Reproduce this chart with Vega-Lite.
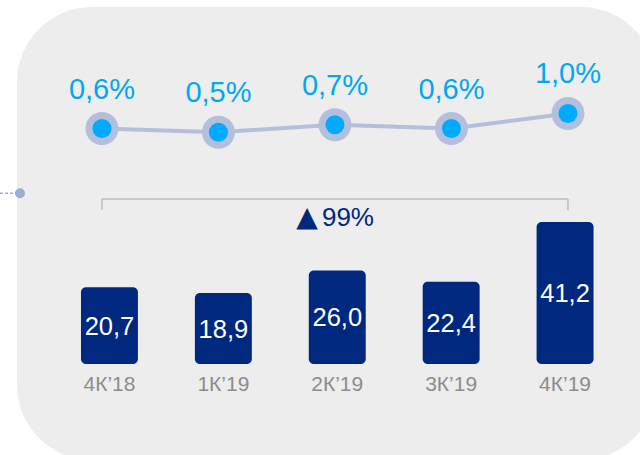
{
  "$schema": "https://vega.github.io/schema/vega-lite/v6.json",
  "width": 639,
  "height": 453,
  "autosize": {"type": "none"},
  "padding": {"left": 17, "top": 7, "right": -16, "bottom": -5},
  "background": "#ffffff",
  "config": {
    "view": {"fill": "#ededed", "stroke": null, "cornerRadius": 75},
    "font": "Liberation Sans",
    "locale": {"number": {"decimal": ",", "thousands": " ", "grouping": [3], "currency": ["", ""]}}
  },
  "data": {
    "values": [
      {"quarter": "4К’18", "value": 20.7, "share": 0.006},
      {"quarter": "1К’19", "value": 18.9, "share": 0.005},
      {"quarter": "2К’19", "value": 26.0, "share": 0.007},
      {"quarter": "3К’19", "value": 22.4, "share": 0.006},
      {"quarter": "4К’19", "value": 41.2, "share": 0.010}
    ]
  },
  "resolve": {"scale": {"x": "independent", "y": "independent"}},
  "layer": [
    {
      "mark": {"type": "bar", "cornerRadius": 5, "color": "#00287f"},
      "encoding": {
        "x": {"field": "quarter", "type": "nominal", "sort": null, "axis": null,
              "scale": {"type": "band", "domain": ["4К’18", "1К’19", "2К’19", "3К’19", "4К’19"], "paddingInner": 0.5, "paddingOuter": 0.555, "align": 0.506}},
        "y": {"field": "value", "type": "quantitative", "axis": null,
              "scale": {"domain": [-33.55, 108.72], "nice": false, "zero": false}},
        "y2": {"datum": -3.4}
      }
    },
    {
      "mark": {"type": "text", "color": "#ffffff", "fontSize": 25.5, "baseline": "middle", "align": "center", "dy": 1},
      "encoding": {
        "x": {"field": "quarter", "type": "nominal", "sort": null, "axis": null,
              "scale": {"type": "band", "domain": ["4К’18", "1К’19", "2К’19", "3К’19", "4К’19"], "paddingInner": 0.5, "paddingOuter": 0.555, "align": 0.506}},
        "y": {"field": "value", "type": "quantitative", "axis": null,
              "scale": {"domain": [-63.7, 220.85], "nice": false, "zero": false}},
        "text": {"field": "value", "type": "quantitative", "format": ".1f"}
      }
    },
    {
      "mark": {"type": "text", "color": "#8c8c8c", "fontSize": 21, "baseline": "alphabetic", "align": "center", "dy": 27},
      "encoding": {
        "x": {"field": "quarter", "type": "nominal", "sort": null, "axis": null,
              "scale": {"type": "band", "domain": ["4К’18", "1К’19", "2К’19", "3К’19", "4К’19"], "paddingInner": 0.5, "paddingOuter": 0.555, "align": 0.506}},
        "y": {"datum": -3.4, "type": "quantitative", "axis": null,
              "scale": {"domain": [-33.55, 108.72], "nice": false, "zero": false}},
        "text": {"field": "quarter", "type": "nominal"}
      }
    },
    {
      "data": {"values": [{}]},
      "mark": {"type": "rule", "color": "#bdbdbd", "strokeWidth": 1.5},
      "encoding": {
        "x": {"datum": "4К’18", "type": "nominal", "axis": null,
              "scale": {"type": "point", "domain": ["4К’18", "1К’19", "2К’19", "3К’19", "4К’19"], "padding": 0.7425, "align": 0.491}},
        "x2": {"datum": "4К’19"},
        "y": {"datum": -0.01277, "type": "quantitative", "axis": null,
              "scale": {"domain": [-0.08227, 0.03836], "nice": false, "zero": false}}
      }
    },
    {
      "data": {"values": [{"end": "4К’18"}, {"end": "4К’19"}]},
      "mark": {"type": "rule", "color": "#bdbdbd", "strokeWidth": 1.5},
      "encoding": {
        "x": {"field": "end", "type": "nominal", "axis": null,
              "scale": {"type": "point", "domain": ["4К’18", "1К’19", "2К’19", "3К’19", "4К’19"], "padding": 0.7425, "align": 0.491}},
        "y": {"datum": -0.01277, "type": "quantitative", "axis": null,
              "scale": {"domain": [-0.08227, 0.03836], "nice": false, "zero": false}},
        "y2": {"datum": -0.0157}
      }
    },
    {
      "data": {"values": [{}]},
      "mark": {"type": "text", "text": "▲", "font": "DejaVu Sans", "color": "#00287f", "fontSize": 28, "baseline": "alphabetic", "align": "center", "dx": -28},
      "encoding": {
        "x": {"datum": "2К’19", "type": "nominal", "axis": null,
              "scale": {"type": "point", "domain": ["4К’18", "1К’19", "2К’19", "3К’19", "4К’19"], "padding": 0.7425, "align": 0.491}},
        "y": {"datum": -0.01996, "type": "quantitative", "axis": null,
              "scale": {"domain": [-0.08227, 0.03836], "nice": false, "zero": false}}
      }
    },
    {
      "data": {"values": [{}]},
      "mark": {"type": "text", "text": "99%", "color": "#00287f", "fontSize": 26, "baseline": "alphabetic", "align": "center", "dx": 13},
      "encoding": {
        "x": {"datum": "2К’19", "type": "nominal", "axis": null,
              "scale": {"type": "point", "domain": ["4К’18", "1К’19", "2К’19", "3К’19", "4К’19"], "padding": 0.7425, "align": 0.491}},
        "y": {"datum": -0.01996, "type": "quantitative", "axis": null,
              "scale": {"domain": [-0.08227, 0.03836], "nice": false, "zero": false}}
      }
    },
    {
      "mark": {"type": "line", "color": "#b4bfdc", "strokeWidth": 4},
      "encoding": {
        "x": {"field": "quarter", "type": "nominal", "sort": null, "axis": null,
              "scale": {"type": "point", "domain": ["4К’18", "1К’19", "2К’19", "3К’19", "4К’19"], "padding": 0.7425, "align": 0.491}},
        "y": {"field": "share", "type": "quantitative", "axis": null,
              "scale": {"domain": [-0.08227, 0.03836], "nice": false, "zero": false}}
      }
    },
    {
      "mark": {"type": "point", "filled": true, "opacity": 1, "color": "#b4bfdc", "size": 1089, "shape": "circle"},
      "encoding": {
        "x": {"field": "quarter", "type": "nominal", "sort": null, "axis": null,
              "scale": {"type": "point", "domain": ["4К’18", "1К’19", "2К’19", "3К’19", "4К’19"], "padding": 0.7425, "align": 0.491}},
        "y": {"field": "share", "type": "quantitative", "axis": null,
              "scale": {"domain": [-0.08227, 0.03836], "nice": false, "zero": false}}
      }
    },
    {
      "mark": {"type": "point", "filled": true, "opacity": 1, "color": "#00aaff", "size": 361, "shape": "circle"},
      "encoding": {
        "x": {"field": "quarter", "type": "nominal", "sort": null, "axis": null,
              "scale": {"type": "point", "domain": ["4К’18", "1К’19", "2К’19", "3К’19", "4К’19"], "padding": 0.7425, "align": 0.491}},
        "y": {"field": "share", "type": "quantitative", "axis": null,
              "scale": {"domain": [-0.08227, 0.03836], "nice": false, "zero": false}}
      }
    },
    {
      "mark": {"type": "text", "color": "#00a8f0", "fontSize": 29, "baseline": "alphabetic", "align": "center", "dy": -30},
      "encoding": {
        "x": {"field": "quarter", "type": "nominal", "sort": null, "axis": null,
              "scale": {"type": "point", "domain": ["4К’18", "1К’19", "2К’19", "3К’19", "4К’19"], "padding": 0.7425, "align": 0.491}},
        "y": {"field": "share", "type": "quantitative", "axis": null,
              "scale": {"domain": [-0.08227, 0.03836], "nice": false, "zero": false}},
        "text": {"field": "share", "type": "quantitative", "format": ".1%"}
      }
    },
    {
      "data": {"values": [{}]},
      "mark": {"type": "rule", "color": "#9dadd3", "strokeWidth": 1.5, "strokeDash": [3, 2]},
      "encoding": {
        "x": {"datum": -0.0266, "type": "quantitative", "axis": null,
              "scale": {"domain": [0, 1], "nice": false, "zero": false}},
        "x2": {"datum": 0.0047},
        "y": {"datum": -0.01125, "type": "quantitative", "axis": null,
              "scale": {"domain": [-0.08227, 0.03836], "nice": false, "zero": false}}
      }
    },
    {
      "data": {"values": [{}]},
      "mark": {"type": "point", "filled": true, "opacity": 1, "color": "#9dadd3", "size": 100, "shape": "circle"},
      "encoding": {
        "x": {"datum": 0.0047, "type": "quantitative", "axis": null,
              "scale": {"domain": [0, 1], "nice": false, "zero": false}},
        "y": {"datum": -0.01125, "type": "quantitative", "axis": null,
              "scale": {"domain": [-0.08227, 0.03836], "nice": false, "zero": false}}
      }
    }
  ]
}
